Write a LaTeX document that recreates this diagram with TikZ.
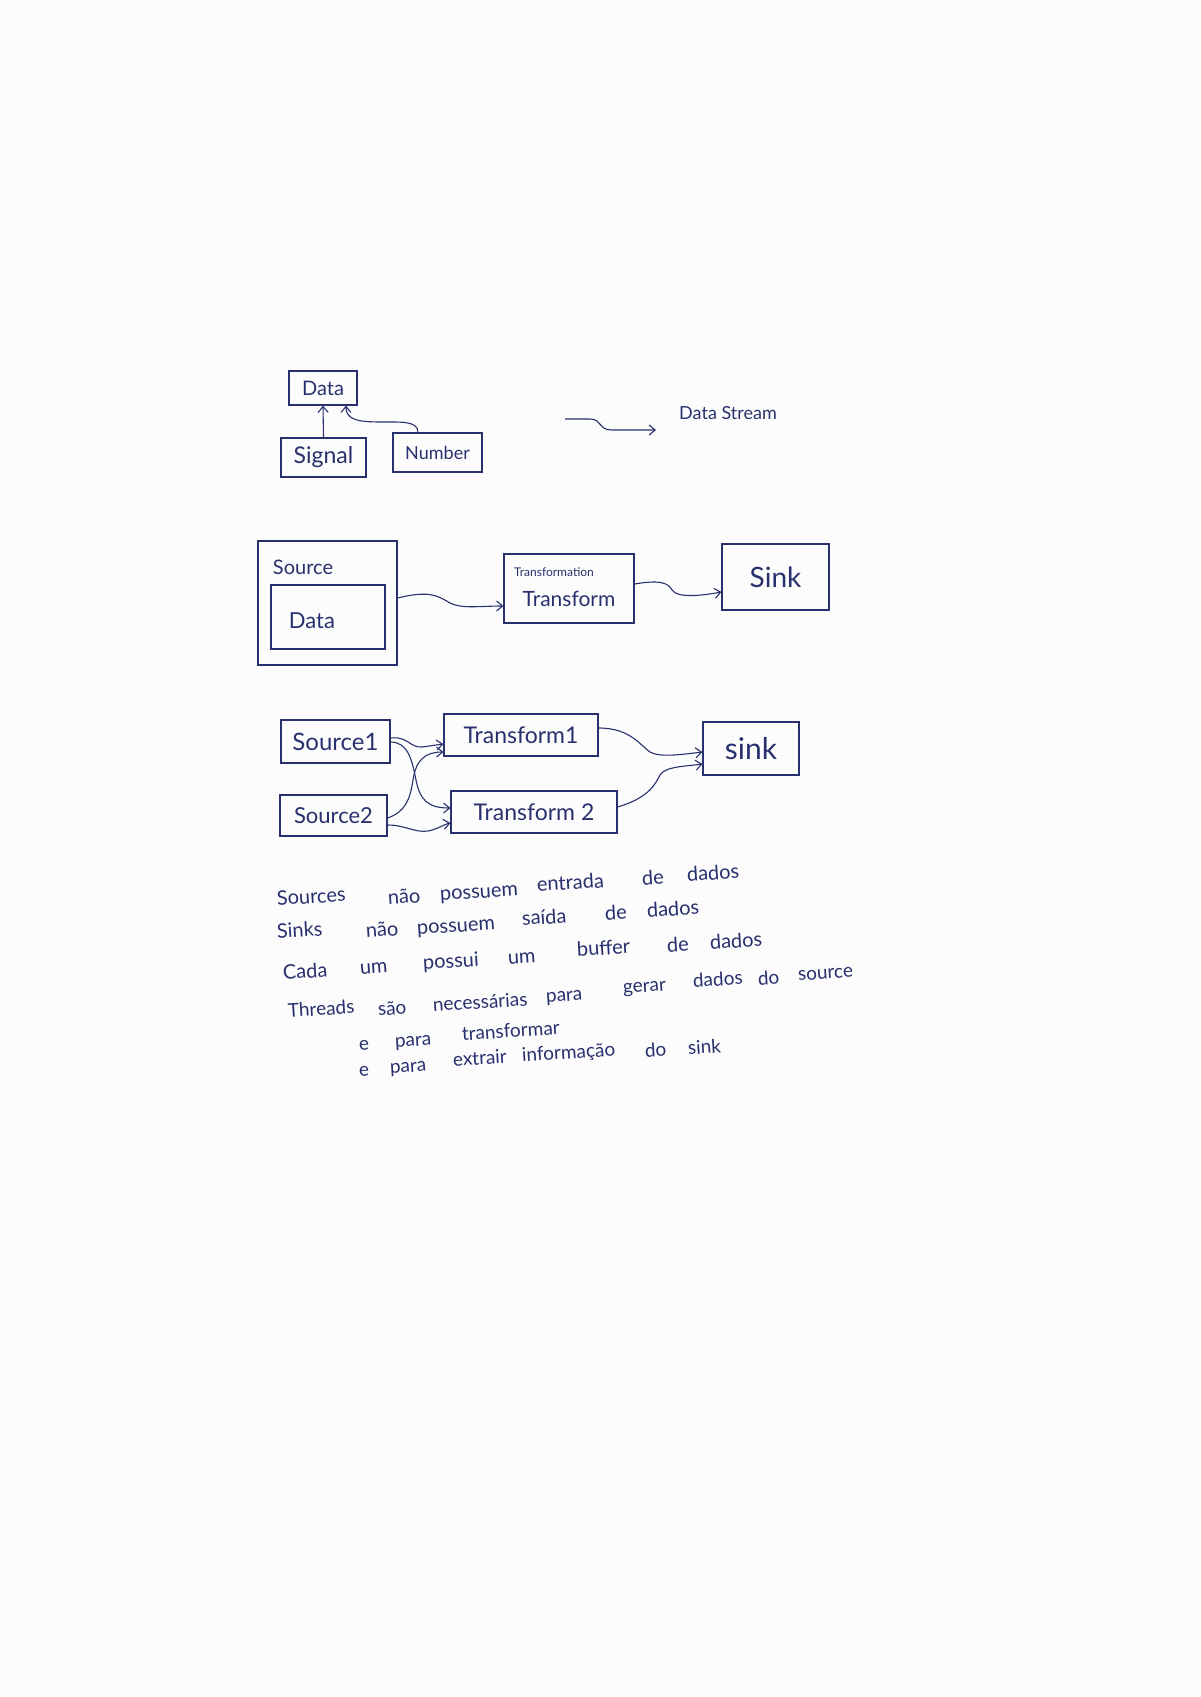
\documentclass[tikz,border=0pt]{standalone}
\usepackage{fontspec}
\setmainfont{Lato}
\usetikzlibrary{arrows.meta}
\definecolor{ink}{RGB}{40,48,110}
\definecolor{paper}{RGB}{252,252,252}
\newcommand\myfs[1]{\fontsize{#1}{#1}\selectfont}
\tikzset{
  box/.style={draw=ink, line width=1.2pt, inner sep=0pt, text=ink},
  lbl/.style={text=ink, inner sep=0pt},
  arr/.style={draw=ink, line width=1.1pt, -{Straight Barb[length=6pt,width=10pt]}},
  word/.style={text=ink, inner sep=0pt, anchor=mid west, rotate=3.5}
}
\begin{document}
\begin{tikzpicture}[x=1pt,y=-1pt]
\useasboundingbox (0,0) rectangle (1200,1697);
\fill[paper] (0,0) rectangle (1200,1697);

% ---- group 1: class hierarchy
\node[box, minimum width=68pt, minimum height=34pt, font=\myfs{20}] (data) at (323,388) {Data};
\node[box, minimum width=85pt, minimum height=39pt, font=\myfs{23}] (signal) at (323.5,457.5) {Signal};
\node[box, minimum width=89pt, minimum height=39pt, font=\myfs{18}] (number) at (437.5,452.5) {Number};
\draw[arr] (signal.north) -- (data.south);
\draw[arr] (number.north -| 418,0) .. controls (418,421) and (402,422) .. (382,422)
  .. controls (358,422) and (346,420) .. (data.south -| 346,0);

% legend
\coordinate (dsA) at (565,419);
\coordinate (dsB) at (656,430);
\draw[arr] (dsA) -- (590,419) .. controls (602,419) and (598,430) .. (612,430) -- (dsB);
\node[lbl, font=\myfs{18}] (dstext) at (728,413) {Data Stream};

% ---- group 2: source -> transform -> sink
\node[box, minimum width=139pt, minimum height=124pt] (source) at (327.5,603) {};
\node[lbl, font=\myfs{20}] (sourcelbl) at (303,567) {Source};
\node[box, minimum width=114pt, minimum height=64pt] (inner) at (328,617) {};
\node[lbl, font=\myfs{22}] (innerlbl) at (312,621) {Data};
\node[box, minimum width=130pt, minimum height=69pt] (transform) at (569,588.5) {};
\node[lbl, font=\myfs{12}] (tflbl) at (554,572) {Transformation};
\node[lbl, font=\myfs{21}] (tfmain) at (569,599) {Transform};
\node[box, minimum width=107pt, minimum height=66pt, font=\myfs{28}] (sink) at (775.5,577) {Sink};
\draw[arr] (source.east |- 0,598) .. controls (430,590) and (438,596) .. (450,603)
  .. controls (462,609) and (480,606) .. (transform.west |- 0,606);
\draw[arr] (transform.east |- 0,584) .. controls (658,580) and (668,582) .. (672,590)
  .. controls (677,598) and (700,596) .. (sink.west |- 0,592);

% ---- group 3: two sources, two transforms, one sink
\node[box, minimum width=109pt, minimum height=43pt, font=\myfs{24}] (source1) at (335.5,741.5) {Source1};
\node[box, minimum width=107pt, minimum height=41pt, font=\myfs{22}] (source2) at (333.5,815.5) {Source2};
\node[box, minimum width=154pt, minimum height=42pt, font=\myfs{23}] (transform1) at (521,735) {Transform1};
\node[box, minimum width=166pt, minimum height=42pt, font=\myfs{23}] (transform2) at (534,812) {Transform 2};
\node[box, minimum width=96pt, minimum height=53pt, font=\myfs{30}] (sink2) at (751,748.5) {sink};

\draw[arr] (source1.east |- 0,738) .. controls (408,736) and (410,748) .. (422,747) -- (transform1.west |- 0,744);
\draw[arr] (source1.east |- 0,742) .. controls (408,742) and (412,760) .. (416,780)
  .. controls (420,800) and (428,808) .. (transform2.west |- 0,808);
\draw[arr] (source2.east |- 0,818) .. controls (405,812) and (410,800) .. (413,780)
  .. controls (416,760) and (425,752) .. (transform1.west |- 0,752);
\draw[arr] (source2.east |- 0,825) .. controls (405,825) and (415,833) .. (428,831)
  .. controls (438,829) and (445,824) .. (transform2.west |- 0,823);
\draw[arr] (transform1.east |- 0,728) .. controls (630,728) and (640,745) .. (650,752)
  .. controls (660,758) and (685,754) .. (sink2.west |- 0,752);
\draw[arr] (transform2.east |- 0,807) .. controls (648,798) and (655,785) .. (660,775)
  .. controls (665,766) and (690,766) .. (sink2.west |- 0,764);

% ---- notes
\begin{scope}[every node/.style={word, font=\myfs{20}}]
\node (l1a) at (277,903) {Sources};
\node (l1b) at (388,902) {não};
\node (l1c) at (440,898) {possuem};
\node (l1d) at (537,889) {entrada};
\node (l1e) at (642,883) {de};
\node (l1f) at (687,879) {dados};
\node (l2a) at (277,936) {Sinks};
\node (l2b) at (366,935) {não};
\node (l2c) at (417,932) {possuem};
\node (l2d) at (522,923) {saída};
\node (l2e) at (605,918) {de};
\node (l2f) at (647,915) {dados};
\node (l3a) at (283,977) {Cada};
\node (l3b) at (360,972) {um};
\node (l3c) at (423,967) {possui};
\node (l3d) at (508,962) {um};
\node (l3e) at (577,954) {buffer};
\node (l3f) at (667,950) {de};
\node (l3g) at (710,947) {dados};
\end{scope}
\begin{scope}[every node/.style={word, font=\myfs{19}}]
\node (l4a) at (288,1015) {Threads};
\node (l4b) at (378,1013) {são};
\node (l4c) at (433,1009) {necessárias};
\node (l4d) at (546,1000) {para};
\node (l4e) at (623,991) {gerar};
\node (l4f) at (693,985) {dados};
\node (l4g) at (758,983) {do};
\node (l4h) at (798,978) {source};
\node (l5a) at (359,1048) {e};
\node (l5b) at (395,1045) {para};
\node (l5c) at (462,1038) {transformar};
\node (l6a) at (359,1074) {e};
\node (l6b) at (390,1071) {para};
\node (l6c) at (453,1064) {extrair};
\node (l6d) at (522,1059) {informação};
\node (l6e) at (645,1055) {do};
\node (l6f) at (688,1052) {sink};
\end{scope}
\end{tikzpicture}
\end{document}
